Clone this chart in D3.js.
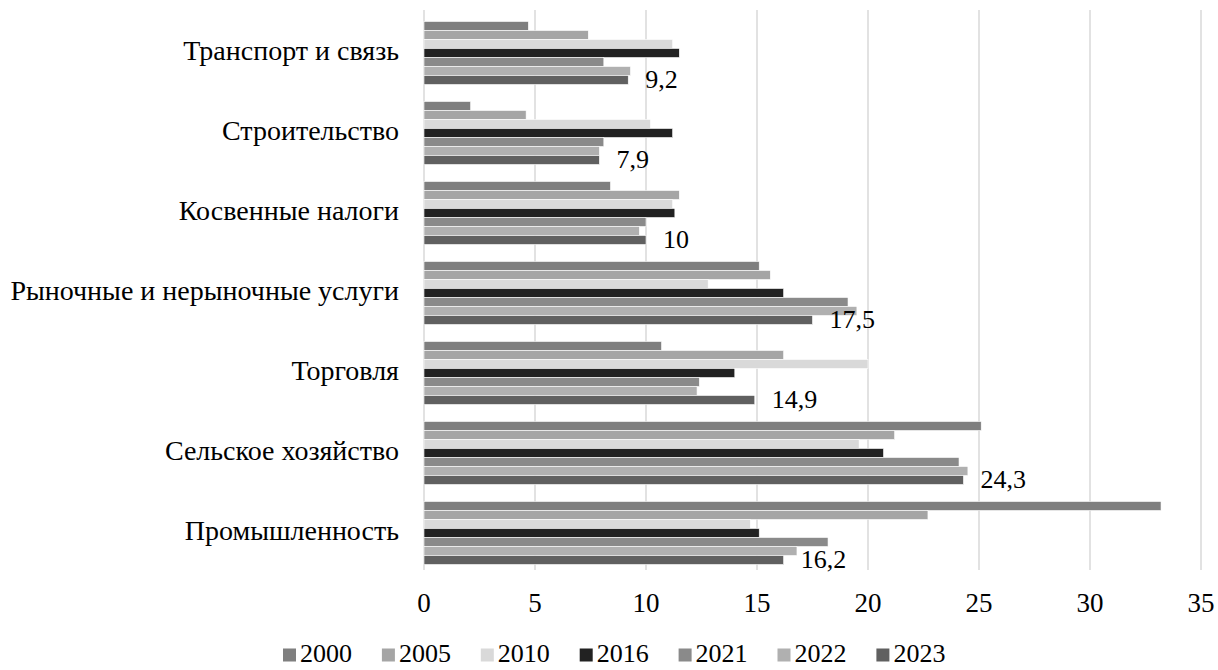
<!DOCTYPE html>
<html>
<head>
<meta charset="utf-8">
<script src="https://cdn.jsdelivr.net/npm/d3@7"></script>
<style>
  body { margin: 0; background: #fff; }
</style>
</head>
<body>
<div id="chart"></div>
<script>
const categories = [
  "Транспорт и связь",
  "Строительство",
  "Косвенные налоги",
  "Рыночные и нерыночные услуги",
  "Торговля",
  "Сельское хозяйство",
  "Промышленность"
];
const years = ["2000", "2005", "2010", "2016", "2021", "2022", "2023"];

// values per year, in the order of categories
const v2000 = [4.7, 2.1, 8.4, 15.1, 10.7, 25.1, 33.2];
const v2005 = [7.4, 4.6, 11.5, 15.6, 16.2, 21.2, 22.7];
const v2010 = [11.2, 10.2, 11.2, 12.8, 20.0, 19.6, 14.7];
const v2016 = [11.5, 11.2, 11.3, 16.2, 14.0, 20.7, 15.1];
const v2021 = [8.1, 8.1, 10.0, 19.1, 12.4, 24.1, 18.2];
const v2022 = [9.3, 7.9, 9.7, 19.5, 12.3, 24.5, 16.8];
const v2023 = [9.2, 7.9, 10.0, 17.5, 14.9, 24.3, 16.2];
const xTicks = [0, 5, 10, 15, 20, 25, 30, 35];

const seriesValues = [v2000, v2005, v2010, v2016, v2021, v2022, v2023];
const colors = ["#7f7f7f", "#a5a5a5", "#d9d9d9", "#222222", "#8a8a8a", "#b0b0b0", "#606060"];

const FONT = '"Times New Roman"';
const width = 1218;
const height = 670;
const plot = { left: 424, right: 1201, top: 13, bottom: 573 };

const svg = d3.select("#chart").append("svg")
  .attr("width", width)
  .attr("height", height)
  .style("display", "block");

const x = d3.scaleLinear().domain([0, 35]).range([plot.left, plot.right]);
const y = d3.scaleBand().domain(categories)
  .range([plot.top, plot.bottom])
  .paddingInner(0.2125)
  .paddingOuter(0.10625);
const ySub = d3.scaleBand().domain(years).range([0, y.bandwidth()]);
const color = d3.scaleOrdinal().domain(years).range(colors);

// gridlines
svg.append("g").attr("class", "grid")
  .selectAll("line")
  .data(xTicks)
  .join("line")
  .attr("x1", (d) => x(d)).attr("x2", (d) => x(d))
  .attr("y1", plot.top - 3).attr("y2", plot.bottom - 3)
  .attr("stroke", "#d9d9d9")
  .attr("stroke-width", 1.5);

// bars
const rows = [];
categories.forEach((c, i) => {
  years.forEach((yr, j) => {
    rows.push({ cat: c, year: yr, value: seriesValues[j][i] });
  });
});

svg.append("g").attr("class", "bars")
  .selectAll("rect")
  .data(rows)
  .join("rect")
  .attr("x", x(0))
  .attr("y", (d) => y(d.cat) + ySub(d.year))
  .attr("width", (d) => x(d.value) - x(0))
  .attr("height", ySub.bandwidth())
  .attr("fill", (d) => color(d.year))
  .attr("stroke", "#ffffff")
  .attr("stroke-width", 0.6);

// data labels (2023 only)
const last = years[years.length - 1];
svg.append("g").attr("class", "labels")
  .selectAll("text")
  .data(rows.filter((d) => d.year === last))
  .join("text")
  .attr("x", (d) => x(d.value) + 17)
  .attr("y", (d) => y(d.cat) + ySub(d.year) + ySub.bandwidth() / 2 + 2)
  .attr("dominant-baseline", "middle")
  .style("font-family", FONT)
  .style("font-size", "26px")
  .attr("fill", "#000")
  .text((d) => String(d.value).replace(".", ","));

// category axis labels
svg.append("g").attr("class", "y-axis")
  .selectAll("text")
  .data(categories)
  .join("text")
  .attr("x", 399)
  .attr("y", (d) => y(d) + y.bandwidth() / 2 + 1)
  .attr("text-anchor", "end")
  .attr("dominant-baseline", "middle")
  .style("font-family", FONT)
  .style("font-size", "28px")
  .attr("fill", "#000")
  .text((d) => d);

// x tick labels
svg.append("g").attr("class", "x-axis")
  .selectAll("text")
  .data(xTicks)
  .join("text")
  .attr("x", (d) => x(d))
  .attr("y", 606)
  .attr("text-anchor", "middle")
  .attr("dominant-baseline", "middle")
  .style("font-family", FONT)
  .style("font-size", "27px")
  .attr("fill", "#000")
  .text((d) => d);

// legend
const legend = svg.append("g").attr("class", "legend")
  .attr("transform", "translate(283,655)");
const item = legend.selectAll("g")
  .data(years)
  .join("g")
  .attr("transform", (d, i) => `translate(${i * 98.9},0)`);
item.append("rect")
  .attr("x", 0).attr("y", -6.5)
  .attr("width", 13).attr("height", 13)
  .attr("fill", (d) => color(d));
item.append("text")
  .attr("x", 17).attr("y", 1)
  .attr("dominant-baseline", "middle")
  .style("font-family", FONT)
  .style("font-size", "26px")
  .attr("fill", "#000")
  .text((d) => d);
</script>
</body>
</html>
